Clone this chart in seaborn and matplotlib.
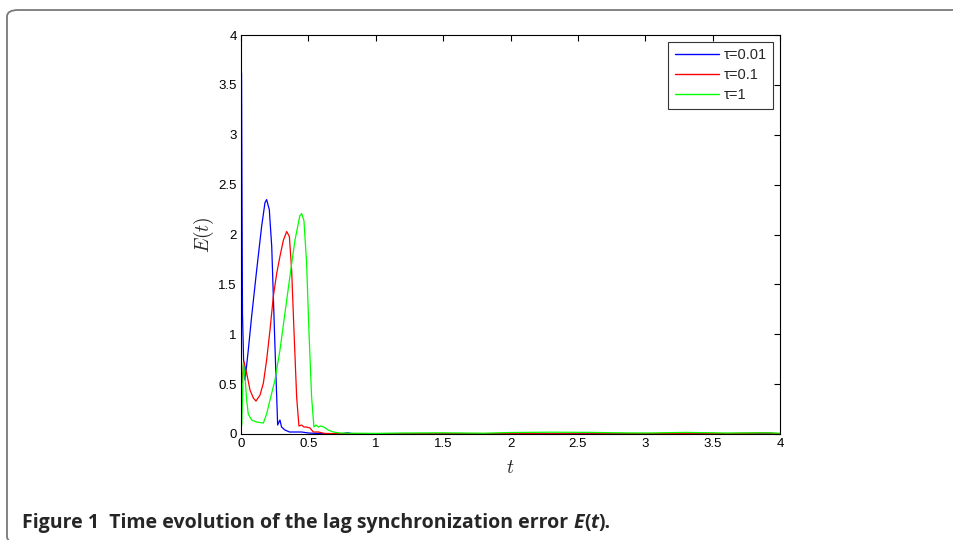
import matplotlib
matplotlib.use("Agg")
import matplotlib.pyplot as plt
from matplotlib.patches import FancyBboxPatch
import numpy as np
import pandas as pd
import seaborn as sns

# tau = 0.01 (blue)
t_blue = [0.004, 0.007, 0.011, 0.02, 0.03, 0.054, 0.079, 0.116, 0.153, 0.178, 0.19, 0.21,
          0.228, 0.24, 0.252, 0.265, 0.272, 0.289, 0.301, 0.326, 0.36, 0.45, 0.5,
          0.6, 0.75, 0.79, 0.83, 1.0, 1.5, 2.0, 2.5, 3.0, 3.5, 3.9, 4.0]
E_blue = [3.62, 2.5, 1.2, 0.7, 0.54, 0.84, 1.18, 1.64, 2.08, 2.32, 2.35, 2.25,
          1.88, 1.38, 0.88, 0.37, 0.09, 0.14, 0.07, 0.04, 0.02, 0.02, 0.01,
          0.004, 0.003, 0.012, 0.003, 0.002, 0.002, 0.003, 0.002, 0.003, 0.002, 0.008, 0.002]

# tau = 0.1 (red)
t_red = [0.002, 0.007, 0.021, 0.042, 0.067, 0.092, 0.111, 0.141, 0.166, 0.19, 0.215, 0.24,
         0.265, 0.289, 0.314, 0.339, 0.359, 0.376, 0.393, 0.413, 0.43, 0.45, 0.467,
         0.487, 0.512, 0.537, 0.574, 0.62, 0.7, 1.0, 1.5, 2.0, 2.5, 3.0, 3.4, 3.6, 3.9, 4.0]
E_red = [0.55, 0.51, 0.73, 0.61, 0.44, 0.36, 0.33, 0.39, 0.51, 0.74, 1.04, 1.38,
         1.61, 1.78, 1.94, 2.03, 1.98, 1.64, 1.04, 0.37, 0.08, 0.09, 0.07,
         0.07, 0.06, 0.02, 0.02, 0.006, 0.003, 0.002, 0.002, 0.003, 0.002, 0.003, 0.008, 0.003, 0.01, 0.003]

# tau = 1 (green)
t_green = [0.002, 0.006, 0.017, 0.03, 0.042, 0.054, 0.079, 0.116, 0.166, 0.19, 0.215, 0.252,
           0.289, 0.326, 0.363, 0.4, 0.437, 0.45, 0.467, 0.487, 0.504, 0.524, 0.541,
           0.556, 0.574, 0.59, 0.615, 0.647, 0.684, 0.734, 0.8, 1.0, 1.2, 1.5, 1.8,
           2.0, 2.3, 2.6, 2.8, 3.0, 3.3, 3.6, 3.9, 4.0]
E_green = [0.08, 0.09, 0.71, 0.57, 0.34, 0.2, 0.14, 0.12, 0.11, 0.2, 0.34, 0.54,
           0.84, 1.21, 1.58, 1.94, 2.19, 2.21, 2.14, 1.71, 1.04, 0.37, 0.07,
           0.09, 0.07, 0.08, 0.07, 0.04, 0.02, 0.01, 0.008, 0.006, 0.01, 0.012, 0.008,
           0.015, 0.018, 0.016, 0.012, 0.01, 0.016, 0.01, 0.012, 0.008]

labels = ["τ=0.01", "τ=0.1", "τ=1"]
colors = ["#0000ff", "#ff0000", "#00ff00"]
tick_vals = [0, 0.5, 1, 1.5, 2, 2.5, 3, 3.5, 4]
tick_text = ["0", "0.5", "1", "1.5", "2", "2.5", "3", "3.5", "4"]

df = pd.concat([
    pd.DataFrame({"t": t_blue, "E": E_blue, "series": labels[0]}),
    pd.DataFrame({"t": t_red, "E": E_red, "series": labels[1]}),
    pd.DataFrame({"t": t_green, "E": E_green, "series": labels[2]}),
], ignore_index=True)

sns.set_style("white")
plt.rcParams["font.family"] = ["Liberation Sans", "DejaVu Sans"]
plt.rcParams["mathtext.fontset"] = "cm"

fig = plt.figure(figsize=(9.54, 5.4), dpi=100)
W, H = 954, 540

# grey rounded frame that runs off the right and bottom edges
frame = FancyBboxPatch((7 / W, -3 / H), 1.2, 533 / H,
                       boxstyle="round,pad=0,rounding_size=0.012",
                       transform=fig.transFigure, facecolor="none",
                       edgecolor="#7a7a7a", linewidth=1.3, clip_on=False)
fig.patches.append(frame)

ax = fig.add_axes([241 / W, (540 - 434) / H, (780 - 241) / W, (434 - 35) / H])

sns.lineplot(data=df, x="t", y="E", hue="series", palette=colors,
             hue_order=labels, linewidth=0.9, ax=ax, sort=False,
             estimator=None)

ax.set_xlim(0, 4)
ax.set_ylim(0, 4)
ax.set_xticks(tick_vals)
ax.set_yticks(tick_vals)
ax.set_xticklabels(tick_text)
ax.set_yticklabels(tick_text)
ax.tick_params(direction="in", length=4, width=0.8, top=True, right=True,
               labelsize=9.5, colors="black", pad=3)
for s in ax.spines.values():
    s.set_visible(True)
    s.set_color("black")
    s.set_linewidth(0.8)

ax.set_xlabel("$t$", fontsize=14, labelpad=7)
ax.set_ylabel("$E(t)$", fontsize=14, labelpad=2)

leg = ax.legend(loc="upper right", fontsize=10.5, frameon=True, fancybox=False,
                handlelength=3.0, borderpad=0.45, labelspacing=0.42,
                handletextpad=0.35, borderaxespad=0.45)
leg.get_frame().set_edgecolor("black")
leg.get_frame().set_linewidth(0.8)
leg.set_title(None)
for line in leg.get_lines():
    line.set_linewidth(1.0)

# caption, mixing bold and bold italic
cap_font = ["Open Sans", "DejaVu Sans"]
cs = 14
prev = fig.text(22 / W, (540 - 528) / H,
                "Figure 1  Time evolution of the lag synchronization error ",
                fontsize=cs, fontweight="bold", family=cap_font, va="baseline")
pieces = [("E", "italic"), ("(", "normal"), ("t", "italic"), (").", "normal")]
for txt, style in pieces:
    prev = ax.annotate(txt, xy=(1, 0), xycoords=prev, xytext=(0, 0),
                       textcoords="offset points", fontsize=cs, fontweight="bold",
                       fontstyle=style, family=cap_font, va="bottom",
                       annotation_clip=False)

fig.savefig("out.png", dpi=100)
